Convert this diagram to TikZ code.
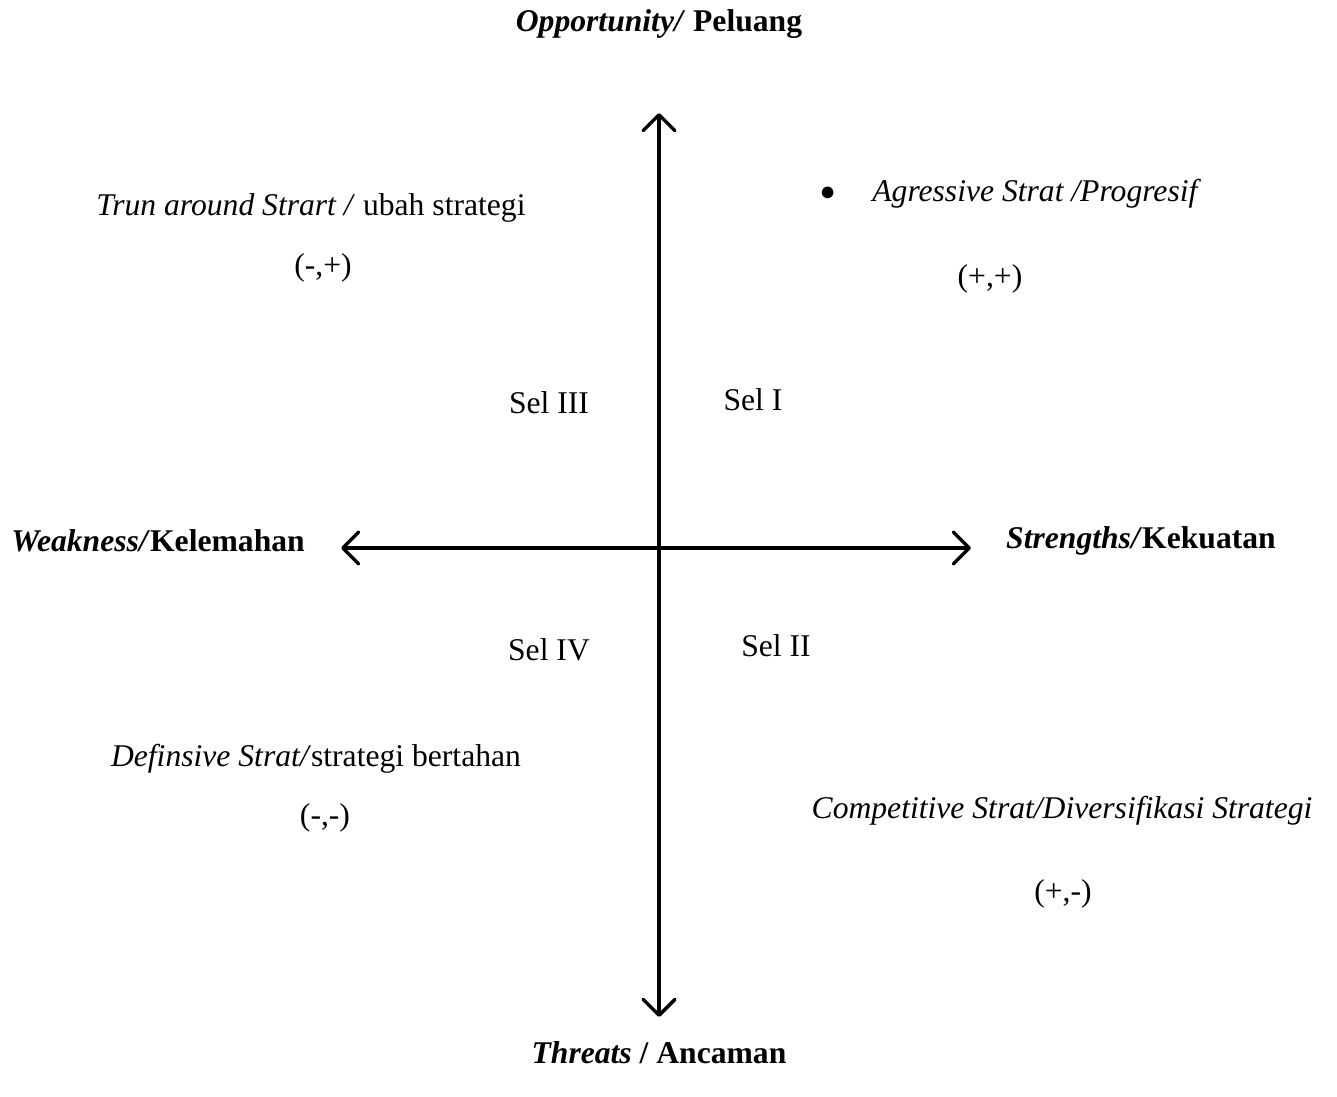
\documentclass[tikz,border=0pt]{standalone}
\usepackage{fontspec}
\setmainfont{Liberation Serif}
\usetikzlibrary{arrows.meta}
\begin{document}
\begin{tikzpicture}[x=0.02cm,y=-0.02cm,
    lbl/.style={font=\fontsize{18}{22}\selectfont,inner sep=0pt},
    axis/.style={line width=2pt,{Straight Barb[length=9pt,width=18pt,line cap=round,line join=round]}-{Straight Barb[length=9pt,width=18pt,line cap=round,line join=round]}}]
                \useasboundingbox (0,0) rectangle (1337,1097);

                % axes
                \coordinate (top) at (659,113);
                \coordinate (bot) at (659,1017);
                \coordinate (lft) at (341,548);
                \coordinate (rgt) at (971,548);
                \draw[axis] (top) -- (bot);
                \draw[axis] (lft) -- (rgt);

                % ends of the axes
                \node[lbl] (opp) at (659,24) {\textbf{\textit{Opportunity/}} \textbf{Peluang}};
                \node[lbl] (thr) at (659,1053) {\textbf{\textit{Threats}} \textbf{/ Ancaman}};
                \node[lbl] (wea) at (158,541) {\textbf{\textit{Weakness/}}\textbf{Kelemahan}};
                \node[lbl] (str) at (1141,541) {\textbf{\textit{Strengths/}}\textbf{Kekuatan}};

                % cells
                \node[lbl] (s3) at (549,403) {Sel III};
                \node[lbl] (s1) at (753,400) {Sel I};
                \node[lbl] (s4) at (549,650) {Sel IV};
                \node[lbl] (s2) at (776,646) {Sel II};

                % strategies
                \node[lbl] (tur) at (311,208) {\textit{Trun around Strart /} ubah strategi};
                \node[lbl] (tus) at (323,268) {(-,+)};
                \node[lbl] (bul) at (828,194) {$\bullet$};
                \node[lbl,anchor=west] (agr) at (872,194) {\textit{Agressive Strat /Progresif}};
                \node[lbl] (ags) at (990,279) {(+,+)};
                \node[lbl] (def) at (316,759) {\textit{Definsive Strat/}strategi bertahan};
                \node[lbl] (des) at (325,818) {(-,-)};
                \node[lbl] (com) at (1062,811) {\textit{Competitive Strat/Diversifikasi Strategi}};
                \node[lbl] (cos) at (1063,894) {(+,-)};
            \end{tikzpicture}
\end{document}
